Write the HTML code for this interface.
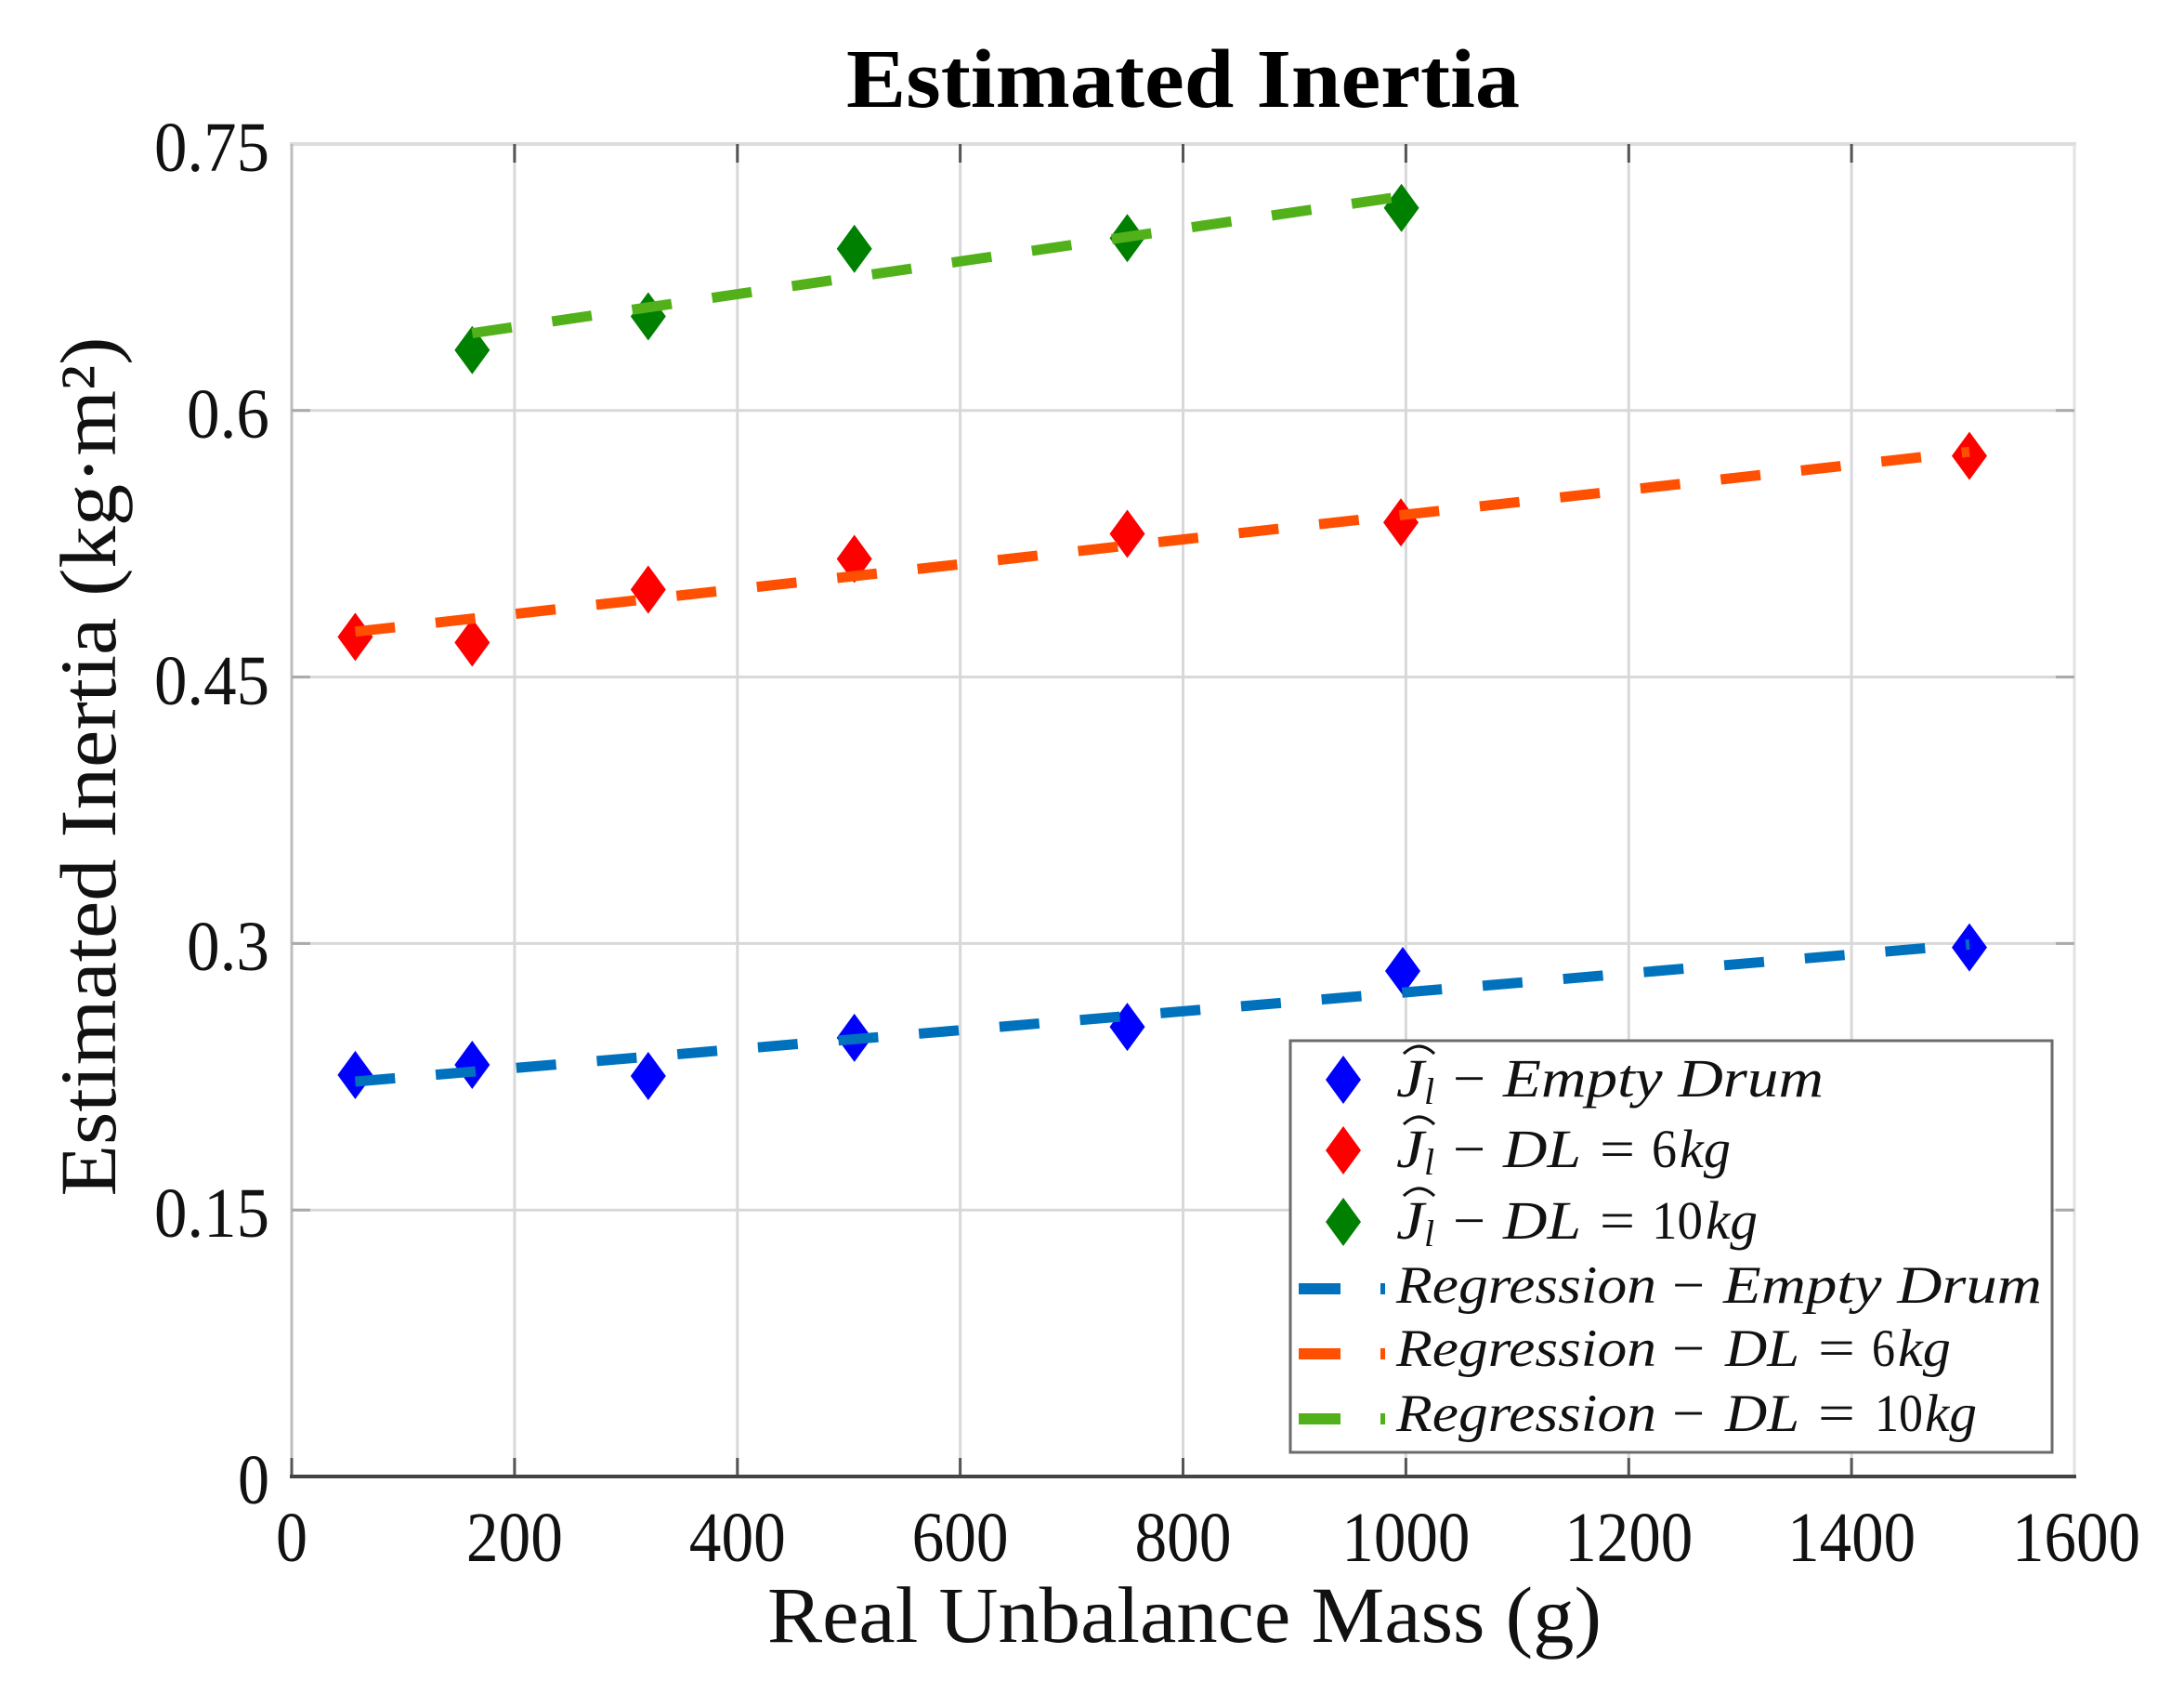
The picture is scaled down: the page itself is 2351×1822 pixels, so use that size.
<!DOCTYPE html>
<html>
<head>
<meta charset="utf-8">
<style>
html,body{margin:0;padding:0;background:#ffffff;}
svg{display:block;}
</style>
</head>
<body>
<svg width="2351" height="1822" viewBox="0 0 2351 1822" xmlns="http://www.w3.org/2000/svg" font-family="'Liberation Serif', serif">
<rect x="0" y="0" width="2351" height="1822" fill="#ffffff"/>

<!-- grid lines -->
<g stroke="#d8d8d8" stroke-width="3">
  <line x1="553.9" y1="155" x2="553.9" y2="1589"/>
  <line x1="793.8" y1="155" x2="793.8" y2="1589"/>
  <line x1="1033.6" y1="155" x2="1033.6" y2="1589"/>
  <line x1="1273.5" y1="155" x2="1273.5" y2="1589"/>
  <line x1="1513.4" y1="155" x2="1513.4" y2="1589"/>
  <line x1="1753.3" y1="155" x2="1753.3" y2="1589"/>
  <line x1="1993.1" y1="155" x2="1993.1" y2="1589"/>
  <line x1="314" y1="441.8" x2="2233" y2="441.8"/>
  <line x1="314" y1="728.6" x2="2233" y2="728.6"/>
  <line x1="314" y1="1015.4" x2="2233" y2="1015.4"/>
  <line x1="314" y1="1302.2" x2="2233" y2="1302.2"/>
</g>

<!-- axes box -->
<line x1="312" y1="155" x2="2235" y2="155" stroke="#dcdcdc" stroke-width="4"/>
<line x1="2233" y1="155" x2="2233" y2="1589" stroke="#e2e2e2" stroke-width="3"/>
<line x1="314" y1="155" x2="314" y2="1589" stroke="#bdbdbd" stroke-width="3"/>

<!-- ticks -->
<g stroke="#555" stroke-width="3">
  <line x1="553.9" y1="1589" x2="553.9" y2="1569"/>
  <line x1="793.8" y1="1589" x2="793.8" y2="1569"/>
  <line x1="1033.6" y1="1589" x2="1033.6" y2="1569"/>
  <line x1="1273.5" y1="1589" x2="1273.5" y2="1569"/>
  <line x1="1513.4" y1="1589" x2="1513.4" y2="1569"/>
  <line x1="1753.3" y1="1589" x2="1753.3" y2="1569"/>
  <line x1="1993.1" y1="1589" x2="1993.1" y2="1569"/>
  <line x1="553.9" y1="155" x2="553.9" y2="175"/>
  <line x1="793.8" y1="155" x2="793.8" y2="175"/>
  <line x1="1033.6" y1="155" x2="1033.6" y2="175"/>
  <line x1="1273.5" y1="155" x2="1273.5" y2="175"/>
  <line x1="1513.4" y1="155" x2="1513.4" y2="175"/>
  <line x1="1753.3" y1="155" x2="1753.3" y2="175"/>
  <line x1="1993.1" y1="155" x2="1993.1" y2="175"/>
  <line x1="314" y1="1589" x2="314" y2="1569"/>
</g>
<g stroke="#aaaaaa" stroke-width="3">
  <line x1="314" y1="441.8" x2="334" y2="441.8"/>
  <line x1="314" y1="728.6" x2="334" y2="728.6"/>
  <line x1="314" y1="1015.4" x2="334" y2="1015.4"/>
  <line x1="314" y1="1302.2" x2="334" y2="1302.2"/>
  <line x1="2233" y1="441.8" x2="2213" y2="441.8"/>
  <line x1="2233" y1="728.6" x2="2213" y2="728.6"/>
  <line x1="2233" y1="1015.4" x2="2213" y2="1015.4"/>
  <line x1="2233" y1="1302.2" x2="2213" y2="1302.2"/>
</g>
<line x1="312" y1="1589" x2="2235" y2="1589" stroke="#444" stroke-width="4"/>

<!-- markers -->
<g fill="#0000ff">
  <polygon points="382.4,1130.9 401.4,1156.9 382.4,1182.9 363.4,1156.9"/>
  <polygon points="508.3,1120 527.3,1146 508.3,1172 489.3,1146"/>
  <polygon points="697.8,1132 716.8,1158 697.8,1184 678.8,1158"/>
  <polygon points="919.7,1090.9 938.7,1116.9 919.7,1142.9 900.7,1116.9"/>
  <polygon points="1213.5,1079.1 1232.5,1105.1 1213.5,1131.1 1194.5,1105.1"/>
  <polygon points="1510,1019 1529,1045 1510,1071 1491,1045"/>
  <polygon points="2120,993.6 2139,1019.6 2120,1045.6 2101,1019.6"/>
</g>
<g fill="#ff0000">
  <polygon points="382.4,659.4 401.4,685.4 382.4,711.4 363.4,685.4"/>
  <polygon points="508.3,665.5 527.3,691.5 508.3,717.5 489.3,691.5"/>
  <polygon points="697.8,608.5 716.8,634.5 697.8,660.5 678.8,634.5"/>
  <polygon points="919.7,575.5 938.7,601.5 919.7,627.5 900.7,601.5"/>
  <polygon points="1213.5,548.5 1232.5,574.5 1213.5,600.5 1194.5,574.5"/>
  <polygon points="1508,536.3 1527,562.3 1508,588.3 1489,562.3"/>
  <polygon points="2120,464.6 2139,490.6 2120,516.6 2101,490.6"/>
</g>
<g fill="#008000">
  <polygon points="508.3,350.8 527.3,376.8 508.3,402.8 489.3,376.8"/>
  <polygon points="697.8,314.5 716.8,340.5 697.8,366.5 678.8,340.5"/>
  <polygon points="919.7,241.8 938.7,267.8 919.7,293.8 900.7,267.8"/>
  <polygon points="1213.5,230.3 1232.5,256.3 1213.5,282.3 1194.5,256.3"/>
  <polygon points="1508.6,197.8 1527.6,223.8 1508.6,249.8 1489.6,223.8"/>
</g>

<!-- regression lines -->
<g stroke-width="11" stroke-dasharray="43 44" fill="none" stroke-linecap="butt">
  <line x1="382.4" y1="1164" x2="2120" y2="1016.4" stroke="#0072bd"/>
  <line x1="382.4" y1="679.8" x2="2120" y2="486.2" stroke="#ff4f00"/>
  <line x1="508.3" y1="358.6" x2="1508.6" y2="211.4" stroke="#52b11a"/>
</g>

<!-- legend -->
<rect x="1389" y="1120" width="820" height="443" fill="#ffffff" stroke="#6b6b6b" stroke-width="3"/>
<polygon points="1446,1136 1465,1162 1446,1188 1427,1162" fill="#0000ff"/>
<polygon points="1446,1212 1465,1238 1446,1264 1427,1238" fill="#ff0000"/>
<polygon points="1446,1289 1465,1315 1446,1341 1427,1315" fill="#008000"/>
<rect x="1398" y="1381" width="45" height="12" fill="#0072bd"/>
<rect x="1486" y="1381" width="5" height="12" fill="#0072bd"/>
<rect x="1398" y="1451" width="45" height="12" fill="#ff4f00"/>
<rect x="1486" y="1451" width="5" height="12" fill="#ff4f00"/>
<rect x="1398" y="1521" width="45" height="12" fill="#52b11a"/>
<rect x="1486" y="1521" width="5" height="12" fill="#52b11a"/>

<g fill="#111">
  <!-- row 1 -->
  <text x="1503" y="1180" font-size="58" font-style="italic" textLength="30" lengthAdjust="spacingAndGlyphs">J</text>
  <text x="1533" y="1188" font-size="40" font-style="italic">l</text>
  <path d="M1511,1134 Q1527.5,1118 1544,1134" stroke="#111" stroke-width="3" fill="none"/>
  <text x="1564" y="1180" font-size="58" textLength="35" lengthAdjust="spacingAndGlyphs">−</text>
  <text x="1618" y="1180" font-size="58" font-style="italic" textLength="345" lengthAdjust="spacingAndGlyphs">Empty Drum</text>
  <!-- row 2 -->
  <text x="1503" y="1256" font-size="58" font-style="italic" textLength="30" lengthAdjust="spacingAndGlyphs">J</text>
  <text x="1533" y="1264" font-size="40" font-style="italic">l</text>
  <path d="M1511,1210 Q1527.5,1194 1544,1210" stroke="#111" stroke-width="3" fill="none"/>
  <text x="1564" y="1256" font-size="58" textLength="35" lengthAdjust="spacingAndGlyphs">−</text>
  <text x="1618" y="1256" font-size="58" font-style="italic" textLength="84" lengthAdjust="spacingAndGlyphs">DL</text>
  <text x="1722" y="1256" font-size="58" textLength="38" lengthAdjust="spacingAndGlyphs">=</text>
  <text x="1778" y="1256" font-size="58" textLength="27" lengthAdjust="spacingAndGlyphs">6</text>
  <text x="1808" y="1256" font-size="58" font-style="italic" textLength="55" lengthAdjust="spacingAndGlyphs">kg</text>
  <!-- row 3 -->
  <text x="1503" y="1333" font-size="58" font-style="italic" textLength="30" lengthAdjust="spacingAndGlyphs">J</text>
  <text x="1533" y="1341" font-size="40" font-style="italic">l</text>
  <path d="M1511,1287 Q1527.5,1271 1544,1287" stroke="#111" stroke-width="3" fill="none"/>
  <text x="1564" y="1333" font-size="58" textLength="35" lengthAdjust="spacingAndGlyphs">−</text>
  <text x="1618" y="1333" font-size="58" font-style="italic" textLength="84" lengthAdjust="spacingAndGlyphs">DL</text>
  <text x="1722" y="1333" font-size="58" textLength="38" lengthAdjust="spacingAndGlyphs">=</text>
  <text x="1778" y="1333" font-size="58" textLength="55" lengthAdjust="spacingAndGlyphs">10</text>
  <text x="1836" y="1333" font-size="58" font-style="italic" textLength="56" lengthAdjust="spacingAndGlyphs">kg</text>
  <!-- regression rows -->
  <text x="1503" y="1402" font-size="57" font-style="italic" textLength="280" lengthAdjust="spacingAndGlyphs">Regression</text>
  <text x="1800" y="1402" font-size="57" textLength="35" lengthAdjust="spacingAndGlyphs">−</text>
  <text x="1855" y="1402" font-size="57" font-style="italic" textLength="343" lengthAdjust="spacingAndGlyphs">Empty Drum</text>

  <text x="1503" y="1470" font-size="57" font-style="italic" textLength="280" lengthAdjust="spacingAndGlyphs">Regression</text>
  <text x="1800" y="1470" font-size="57" textLength="35" lengthAdjust="spacingAndGlyphs">−</text>
  <text x="1857" y="1470" font-size="57" font-style="italic" textLength="80" lengthAdjust="spacingAndGlyphs">DL</text>
  <text x="1957" y="1470" font-size="57" textLength="40" lengthAdjust="spacingAndGlyphs">=</text>
  <text x="2015" y="1470" font-size="57" textLength="25" lengthAdjust="spacingAndGlyphs">6</text>
  <text x="2043" y="1470" font-size="57" font-style="italic" textLength="57" lengthAdjust="spacingAndGlyphs">kg</text>

  <text x="1503" y="1540" font-size="57" font-style="italic" textLength="280" lengthAdjust="spacingAndGlyphs">Regression</text>
  <text x="1800" y="1540" font-size="57" textLength="35" lengthAdjust="spacingAndGlyphs">−</text>
  <text x="1857" y="1540" font-size="57" font-style="italic" textLength="80" lengthAdjust="spacingAndGlyphs">DL</text>
  <text x="1957" y="1540" font-size="57" textLength="40" lengthAdjust="spacingAndGlyphs">=</text>
  <text x="2018" y="1540" font-size="57" textLength="52" lengthAdjust="spacingAndGlyphs">10</text>
  <text x="2072" y="1540" font-size="57" font-style="italic" textLength="56" lengthAdjust="spacingAndGlyphs">kg</text>
</g>

<!-- y tick labels -->
<g font-size="76" fill="#111" text-anchor="end">
  <text x="290" y="184" textLength="124" lengthAdjust="spacingAndGlyphs">0.75</text>
  <text x="290" y="471" textLength="89" lengthAdjust="spacingAndGlyphs">0.6</text>
  <text x="290" y="758" textLength="124" lengthAdjust="spacingAndGlyphs">0.45</text>
  <text x="290" y="1044" textLength="89" lengthAdjust="spacingAndGlyphs">0.3</text>
  <text x="290" y="1331" textLength="124" lengthAdjust="spacingAndGlyphs">0.15</text>
  <text x="290" y="1618" textLength="34" lengthAdjust="spacingAndGlyphs">0</text>
</g>

<!-- x tick labels -->
<g font-size="76" fill="#111" text-anchor="middle">
  <text x="314" y="1680" textLength="34" lengthAdjust="spacingAndGlyphs">0</text>
  <text x="553.9" y="1680" textLength="104" lengthAdjust="spacingAndGlyphs">200</text>
  <text x="793.8" y="1680" textLength="104" lengthAdjust="spacingAndGlyphs">400</text>
  <text x="1033.6" y="1680" textLength="104" lengthAdjust="spacingAndGlyphs">600</text>
  <text x="1273.5" y="1680" textLength="104" lengthAdjust="spacingAndGlyphs">800</text>
  <text x="1513.4" y="1680" textLength="138" lengthAdjust="spacingAndGlyphs">1000</text>
  <text x="1753.3" y="1680" textLength="138" lengthAdjust="spacingAndGlyphs">1200</text>
  <text x="1993.1" y="1680" textLength="138" lengthAdjust="spacingAndGlyphs">1400</text>
  <text x="2235" y="1680" textLength="138" lengthAdjust="spacingAndGlyphs">1600</text>
</g>

<!-- axis labels -->
<text x="1275" y="1767" font-size="86" fill="#111" text-anchor="middle" textLength="898" lengthAdjust="spacingAndGlyphs">Real Unbalance Mass (g)</text>
<text transform="translate(124,825) rotate(-90)" font-size="86" fill="#111" text-anchor="middle" textLength="925" lengthAdjust="spacingAndGlyphs">Estimated Inertia (kg·m²)</text>

<!-- title -->
<text x="1273.5" y="115" font-size="90" font-weight="bold" fill="#000" text-anchor="middle" textLength="725" lengthAdjust="spacingAndGlyphs">Estimated Inertia</text>
</svg>
</body>
</html>
